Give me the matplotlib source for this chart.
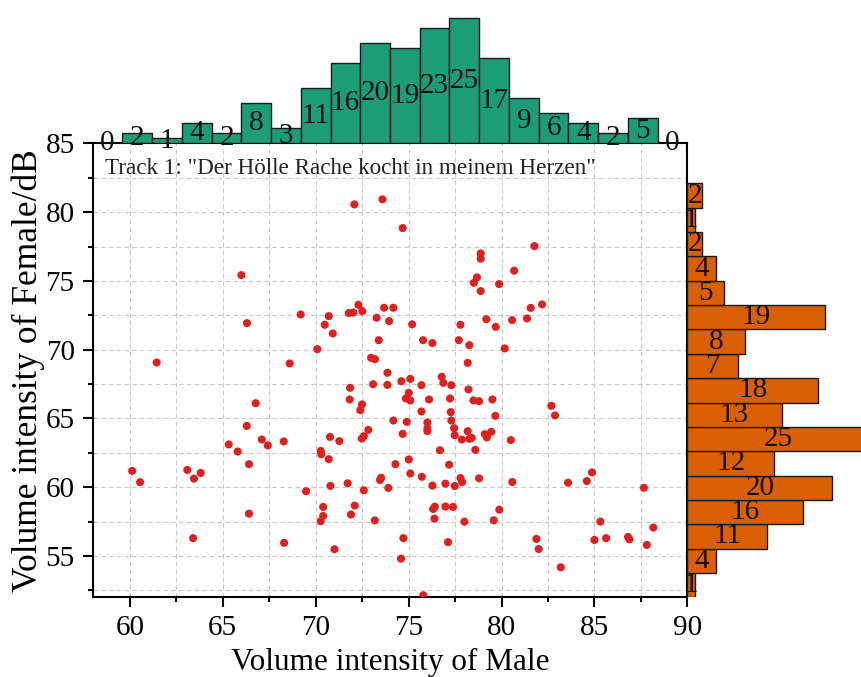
import numpy as np
import matplotlib.pyplot as plt
from matplotlib.ticker import MultipleLocator

plt.rcParams['font.family'] = ['Liberation Serif', 'DejaVu Serif']

# Scatter data: volume intensity (male vs female)
male = [72.08, 73.59, 66.00, 69.19, 66.30, 70.70, 70.49, 70.92, 71.78, 72.03,
        72.30, 72.51, 73.28, 73.68, 73.95, 73.39, 70.09, 72.98, 73.19, 61.44,
        68.60, 74.68, 81.77, 78.88, 78.88, 80.68, 78.68, 78.51, 79.87, 78.88,
        82.18, 81.57, 81.37, 80.57, 79.18, 79.69, 74.18, 75.19, 77.79, 75.78,
        76.28, 77.70, 78.27, 80.17, 78.18, 73.86, 73.09, 73.86, 71.85, 71.83,
        72.49, 72.40, 66.77, 66.29, 72.83, 72.59, 72.48, 70.77, 71.27, 67.10,
        67.42, 68.28, 65.32, 65.80, 70.27, 70.30, 70.70, 66.41, 60.12, 60.55,
        63.09, 63.45, 63.81, 73.52, 73.46, 73.91, 70.79, 71.72, 72.59, 69.48,
        72.10, 70.40, 70.40, 70.27, 71.90, 73.18, 66.41, 63.40, 68.30, 71.01,
        74.61, 75.09, 75.69, 76.78, 76.87, 77.30, 78.22, 75.01, 74.85, 75.09,
        76.10, 77.23, 78.49, 78.79, 79.51, 75.69, 77.27, 79.67, 74.18, 74.90,
        76.01, 76.01, 76.01, 77.30, 77.45, 77.48, 74.68, 77.86, 78.18, 78.27,
        78.40, 79.10, 79.21, 79.45, 80.50, 82.68, 82.88, 76.69, 78.59, 74.29,
        75.01, 75.09, 75.71, 77.18, 77.79, 77.88, 78.79, 76.28, 76.98, 77.48,
        80.58, 83.58, 84.59, 84.87, 87.66, 76.32, 76.41, 76.98, 77.39, 76.39,
        78.00, 79.58, 79.88, 74.72, 77.12, 74.59, 75.79, 81.88, 82.00, 83.19,
        85.32, 85.00, 85.63, 86.81, 86.88, 87.82, 88.17]
female = [80.56, 80.93, 75.42, 72.56, 71.93, 72.44, 71.81, 71.18, 72.66, 72.70,
          73.26, 72.80, 72.32, 73.05, 72.08, 70.69, 70.04, 69.41, 69.31, 69.07,
          69.00, 78.84, 77.53, 77.00, 76.61, 75.74, 75.25, 74.86, 74.77, 74.26,
          73.29, 73.04, 72.27, 72.15, 72.22, 71.66, 73.05, 71.84, 71.81, 70.69,
          70.48, 70.69, 70.33, 70.09, 69.04, 68.32, 67.49, 67.44, 67.23, 66.38,
          66.02, 65.60, 66.11, 64.46, 64.17, 63.71, 63.54, 63.66, 63.35, 63.47,
          63.04, 63.33, 63.11, 62.60, 62.64, 62.40, 62.04, 61.68, 61.19, 60.37,
          61.26, 60.63, 61.04, 60.69, 60.53, 59.95, 60.10, 60.29, 59.78, 59.71,
          58.67, 58.57, 57.92, 57.53, 58.02, 57.59, 58.08, 56.30, 55.96, 55.50,
          67.71, 67.88, 67.42, 68.03, 67.59, 67.42, 67.11, 66.86, 66.45, 66.31,
          66.38, 66.45, 66.31, 66.26, 66.38, 65.51, 65.46, 65.19, 64.85, 64.75,
          64.71, 64.27, 64.08, 64.85, 64.29, 63.78, 63.88, 63.47, 64.08, 63.52,
          63.59, 63.86, 63.62, 64.03, 63.43, 65.92, 65.22, 62.69, 62.72, 61.68,
          62.02, 61.00, 60.76, 61.64, 60.67, 60.38, 60.65, 60.12, 60.26, 60.09,
          60.38, 60.33, 60.45, 61.08, 59.96, 58.42, 58.59, 58.60, 58.57, 57.72,
          57.50, 57.60, 58.37, 56.30, 56.01, 54.81, 52.15, 56.24, 55.51, 54.18,
          57.50, 56.17, 56.30, 56.39, 56.22, 55.81, 57.07]

# Histogram counts (male on top, female on the right, bottom to top)
male_counts = [0, 2, 1, 4, 2, 8, 3, 11, 16, 20, 19, 23, 25, 17, 9, 6, 4, 2, 5, 0]
male_bin_start, male_bin_width = 58.0, 1.6
female_counts = [1, 4, 11, 16, 20, 12, 25, 13, 18, 7, 8, 19, 5, 4, 2, 1, 2]
female_bin_start, female_bin_width = 52.0, 1.77

green = '#1B9E77'
orange = '#D95F02'
red = '#E0201E'

fig = plt.figure(figsize=(8.61, 6.77), dpi=100)
ax = fig.add_axes([0.1077, 0.1177, 0.6906, 0.6706])
ax_top = fig.add_axes([0.1077, 0.7883, 0.6906, 0.2117])
ax_right = fig.add_axes([0.7983, 0.1177, 0.2017, 0.6706])

# main scatter
ax.scatter(male, female, s=34, color=red, edgecolors='none', zorder=3)
ax.set_xlim(58, 90)
ax.set_ylim(52, 85)
ax.xaxis.set_major_locator(MultipleLocator(5))
ax.xaxis.set_minor_locator(MultipleLocator(2.5))
ax.yaxis.set_major_locator(MultipleLocator(5))
ax.yaxis.set_minor_locator(MultipleLocator(2.5))
ax.grid(True, which='both', linestyle=(0, (4, 3)), color='#c8c8c8', linewidth=0.8)
ax.set_axisbelow(True)
ax.tick_params(which='major', direction='out', length=7, width=1.5, labelsize=21, pad=6)
ax.tick_params(which='minor', direction='out', length=3.5, width=1.5)
for sp in ax.spines.values():
    sp.set_linewidth(1.5)
ax.set_xlabel('Volume intensity of Male', fontsize=22.5, labelpad=5)
ax.set_ylabel('Volume intensity of Female/dB', fontsize=25.5, labelpad=0)
ax.text(0.021, 0.945, 'Track 1: "Der Hölle Rache kocht in meinem Herzen"',
        transform=ax.transAxes, fontsize=16.7, va='center', ha='left', color='#222222')

# top histogram
edges = male_bin_start + male_bin_width * np.arange(len(male_counts))
ax_top.bar(edges, male_counts, width=male_bin_width, align='edge', color=green,
           edgecolor='#1a1a1a', linewidth=1.0)
for e, c in zip(edges, male_counts):
    ax_top.text(e + male_bin_width / 2, c / 2, str(c), ha='center', va='center',
                fontsize=21, color='#111111')
ax_top.set_xlim(58, 90)
ax_top.set_ylim(0, 28.6)
ax_top.axis('off')

# right histogram
fedges = female_bin_start + female_bin_width * np.arange(len(female_counts))
ax_right.barh(fedges, female_counts, height=female_bin_width, align='edge', color=orange,
              edgecolor='#1a1a1a', linewidth=1.0)
for e, c in zip(fedges, female_counts):
    ax_right.text(c / 2, e + female_bin_width / 2, str(c), ha='center', va='center',
                  fontsize=21, color='#111111')
ax_right.set_ylim(52, 85)
ax_right.set_xlim(0, 23.96)
ax_right.axis('off')

fig.savefig('out.png', dpi=100)
